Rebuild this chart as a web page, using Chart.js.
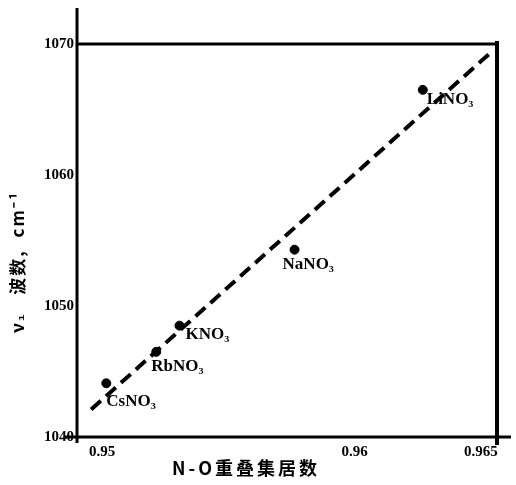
<!DOCTYPE html>
<html lang="zh">
<head>
<meta charset="UTF-8">
<title>N-O重叠集居数 与 ν1 波数</title>
<script src="https://cdn.jsdelivr.net/npm/chart.js"></script>
<style>
  body { margin: 0; background: #fff; }
  #wrap { width: 516px; height: 485px; }
</style>
</head>
<body>
<div id="wrap"><canvas id="chart" width="516" height="485"></canvas></div>
<script>
// data
const salts = ['CsNO₃', 'RbNO₃', 'KNO₃', 'NaNO₃', 'LiNO₃'];
const overlap = [0.95016, 0.95214, 0.95306, 0.95762, 0.9627];
const wavenumber = [1044.1, 1046.5, 1048.5, 1054.3, 1066.5];
// fitted dashed line end points
const fitX = [0.94956, 0.96548];
const fitY = [1042.1, 1069.5];
const xTicks = [0.95, 0.96, 0.965];
const yTicks = [1040, 1050, 1060, 1070];

// label offsets (px) relative to each point
const labelOffset = [[0, 18], [-5, 15], [6, 9], [-12, 15], [4, 10]];

const serif = '"Liberation Serif", "DejaVu Serif", serif';
const cjk = '"Noto Sans CJK SC", sans-serif';

const frame = {
  id: 'frame',
  afterDraw(chart) {
    const c = chart.ctx, a = chart.chartArea;
    c.save();
    c.strokeStyle = '#000';
    c.lineWidth = 3;
    // left axis runs past the top
    c.beginPath(); c.moveTo(a.left, 8); c.lineTo(a.left, a.bottom + 6); c.stroke();
    c.beginPath(); c.moveTo(a.left - 12, a.bottom); c.lineTo(a.right + 14, a.bottom); c.stroke();
    c.beginPath(); c.moveTo(a.left, a.top); c.lineTo(a.right, a.top); c.stroke();
    c.lineWidth = 4;
    c.beginPath(); c.moveTo(a.right, a.top - 3); c.lineTo(a.right, a.bottom + 8); c.stroke();

    // salt labels
    const meta = chart.getDatasetMeta(1);
    c.fillStyle = '#000';
    c.font = 'bold 17px ' + serif;
    c.textBaseline = 'middle';
    meta.data.forEach((p, i) => {
      c.fillText(salts[i], p.x + labelOffset[i][0], p.y + labelOffset[i][1]);
    });

    // axis titles
    c.textAlign = 'center';
    c.letterSpacing = '3px';
    c.font = 'bold 18px ' + cjk;
    c.fillText('N-O重叠集居数', 246, 468);
    c.save();
    c.translate(18, 262);
    c.rotate(-Math.PI / 2);
    c.letterSpacing = '2px';
    c.font = 'bold 17px ' + cjk;
    c.fillText('ν₁   波数,  cm⁻¹', 0, 0);
    c.restore();
    c.restore();
  }
};

new Chart(document.getElementById('chart'), {
  type: 'scatter',
  data: {
    datasets: [
      {
        type: 'line',
        data: fitX.map((x, i) => ({ x: x, y: fitY[i] })),
        borderColor: '#000',
        borderWidth: 4,
        borderDash: [13, 7],
        pointRadius: 0,
        fill: false
      },
      {
        data: overlap.map((x, i) => ({ x: x, y: wavenumber[i] })),
        backgroundColor: '#000',
        borderColor: '#000',
        pointRadius: 4.5
      }
    ]
  },
  options: {
    responsive: false,
    animation: false,
    layout: { padding: { top: 44, right: 19, left: 0, bottom: 0 } },
    plugins: { legend: { display: false }, tooltip: { enabled: false } },
    scales: {
      x: {
        type: 'linear',
        min: 0.949,
        max: 0.96564,
        afterBuildTicks: s => { s.ticks = xTicks.map(v => ({ value: v })); },
        afterFit: s => { s.height = 48; },
        grid: { display: false, drawTicks: false },
        border: { display: false },
        ticks: {
          padding: 6,
          color: '#000',
          font: { family: serif, weight: 'bold', size: 15 },
          callback: v => String(v)
        }
      },
      y: {
        min: 1040,
        max: 1070,
        afterBuildTicks: s => { s.ticks = yTicks.map(v => ({ value: v })); },
        afterFit: s => { s.width = 77; },
        grid: { display: false, drawTicks: false },
        border: { display: false },
        ticks: {
          padding: 3,
          color: '#000',
          font: { family: serif, weight: 'bold', size: 15 },
          callback: v => String(v)
        }
      }
    }
  },
  plugins: [frame]
});
</script>
</body>
</html>
